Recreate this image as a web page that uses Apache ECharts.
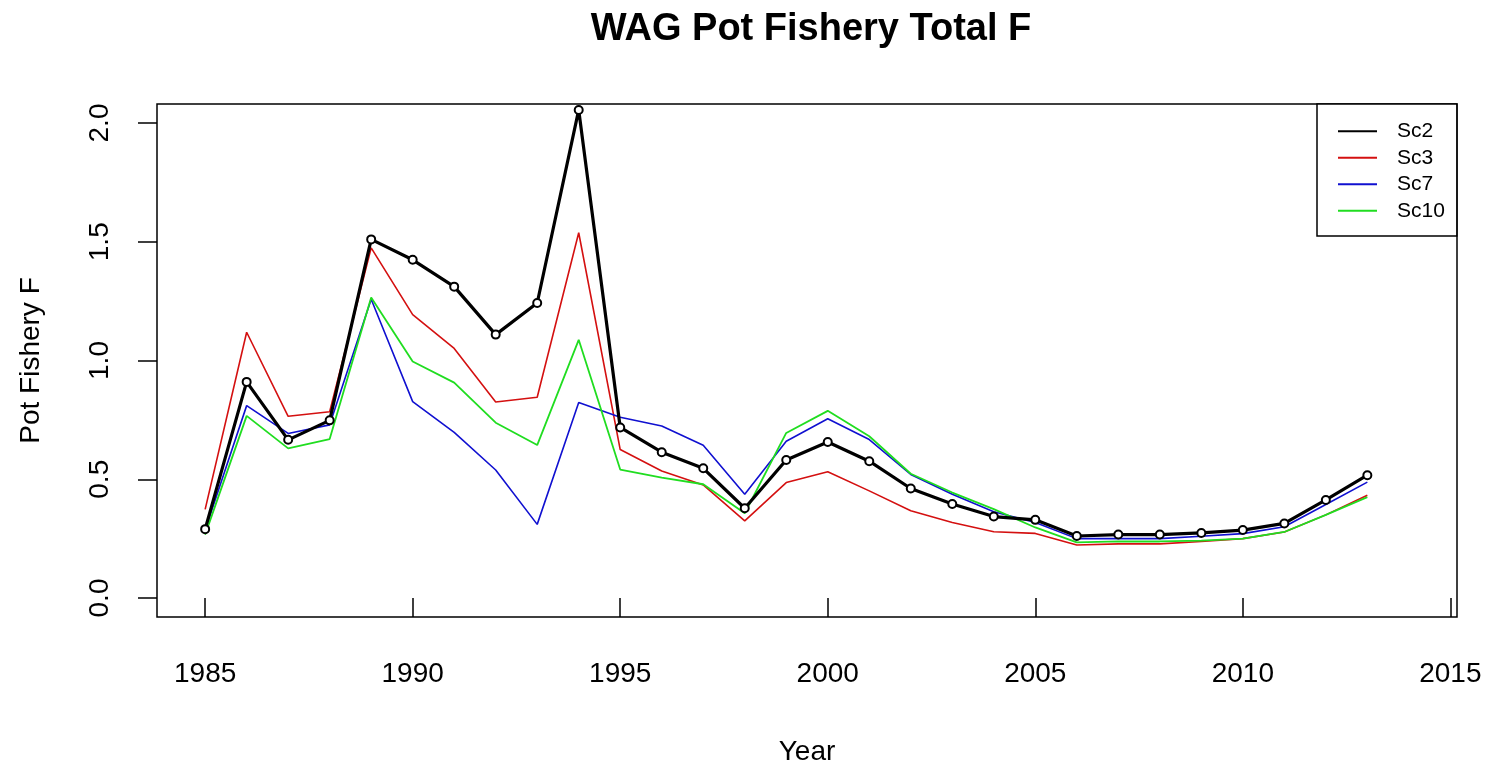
<!DOCTYPE html>
<html>
<head>
<meta charset="utf-8">
<script src="https://cdn.jsdelivr.net/npm/echarts@6/dist/echarts.min.js"></script>
<style>
html,body{margin:0;padding:0;background:#fff;}
#chart{width:1493px;height:771px;}
</style>
</head>
<body>
<div id="chart"></div>
<script>
const years = [1985,1986,1987,1988,1989,1990,1991,1992,1993,1994,1995,1996,1997,1998,1999,2000,2001,2002,2003,2004,2005,2006,2007,2008,2009,2010,2011,2012,2013];
const sc2 = [0.29,0.91,0.666,0.748,1.51,1.424,1.311,1.109,1.242,2.055,0.718,0.614,0.546,0.378,0.581,0.657,0.576,0.461,0.396,0.343,0.329,0.261,0.267,0.267,0.274,0.286,0.314,0.413,0.517];
const sc3 = [0.373,1.119,0.765,0.784,1.474,1.193,1.051,0.825,0.845,1.538,0.625,0.535,0.476,0.325,0.486,0.532,0.451,0.367,0.318,0.279,0.272,0.223,0.228,0.228,0.238,0.25,0.278,0.35,0.433];
const sc7 = [0.286,0.81,0.693,0.729,1.258,0.827,0.697,0.539,0.31,0.823,0.761,0.724,0.643,0.437,0.66,0.755,0.667,0.52,0.437,0.363,0.318,0.25,0.25,0.25,0.26,0.271,0.3,0.394,0.488];
const sc10 = [0.267,0.767,0.63,0.669,1.265,0.996,0.907,0.738,0.644,1.087,0.541,0.507,0.479,0.357,0.695,0.788,0.681,0.523,0.444,0.374,0.297,0.234,0.238,0.238,0.242,0.25,0.278,0.35,0.425];
const xTicks = [1985,1990,1995,2000,2005,2010,2015];
const yTicks = [0,0.5,1,1.5,2];

const pairs = arr => years.map((y,i)=>[y,arr[i]]);
const FONT = '"Liberation Sans", Arial, sans-serif';

const chart = echarts.init(document.getElementById('chart'));
chart.setOption({
  backgroundColor:'#fff',
  animation:false,
  title:{
    text:'WAG Pot Fishery Total F',
    left:806, top:6, textAlign:'center',
    textStyle:{fontFamily:FONT,fontSize:38,fontWeight:'bold',color:'#000'}
  },
  grid:{left:157,right:36,top:104,bottom:151,show:true,borderColor:'#000',borderWidth:1.5,backgroundColor:'transparent'},
  legend:{
    orient:'vertical', left:1317, top:104,
    backgroundColor:'#fff',
    borderColor:'#000', borderWidth:1.5, borderRadius:0,
    padding:[14,12,12,21],
    itemGap:0, itemWidth:39, itemHeight:2,
    textStyle:{fontFamily:FONT,fontSize:21,color:'#000',lineHeight:26.5,padding:[0,0,0,15]},
    data:[
      {name:'Sc2',icon:'rect',itemStyle:{color:'#000',borderWidth:0}},
      {name:'Sc3',icon:'rect',itemStyle:{color:'#d41010',borderWidth:0}},
      {name:'Sc7',icon:'rect',itemStyle:{color:'#1010d0',borderWidth:0}},
      {name:'Sc10',icon:'rect',itemStyle:{color:'#20dd20',borderWidth:0}}
    ]
  },
  xAxis:{
    type:'value', min:1983.84, max:2015.16,
    name:'Year', nameLocation:'middle', nameGap:121,
    nameTextStyle:{fontFamily:FONT,fontSize:28,color:'#000'},
    axisLine:{show:false},
    splitLine:{show:false},
    axisTick:{show:true,length:19,inside:false,customValues:xTicks,lineStyle:{color:'#000',width:1.5}},
    axisLabel:{customValues:xTicks,margin:43,fontFamily:FONT,fontSize:28,color:'#000',formatter:v=>String(v)}
  },
  yAxis:{
    type:'value', min:-0.08, max:2.08,
    name:'Pot Fishery F', nameLocation:'middle', nameGap:112, nameRotate:90,
    nameTextStyle:{fontFamily:FONT,fontSize:28,color:'#000'},
    axisLine:{show:false},
    splitLine:{show:false},
    axisTick:{show:true,length:19,inside:false,customValues:yTicks,lineStyle:{color:'#000',width:1.5}},
    axisLabel:{customValues:yTicks,margin:43,rotate:90,fontFamily:FONT,fontSize:28,color:'#000',formatter:v=>v.toFixed(1)}
  },
  series:[
    {name:'Sc3',type:'line',data:pairs(sc3),showSymbol:false,symbol:'none',lineStyle:{color:'#d41010',width:1.6},itemStyle:{color:'#d41010'},z:2},
    {name:'Sc7',type:'line',data:pairs(sc7),showSymbol:false,symbol:'none',lineStyle:{color:'#1010d0',width:1.6},itemStyle:{color:'#1010d0'},z:3},
    {name:'Sc10',type:'line',data:pairs(sc10),showSymbol:false,symbol:'none',lineStyle:{color:'#20dd20',width:1.8},itemStyle:{color:'#20dd20'},z:4},
    {name:'Sc2',type:'line',data:pairs(sc2),symbol:'emptyCircle',symbolSize:8,showSymbol:true,
      lineStyle:{color:'#000',width:3.2},itemStyle:{color:'#000',borderColor:'#000',borderWidth:2.6},z:5}
  ]
});
</script>
</body>
</html>
